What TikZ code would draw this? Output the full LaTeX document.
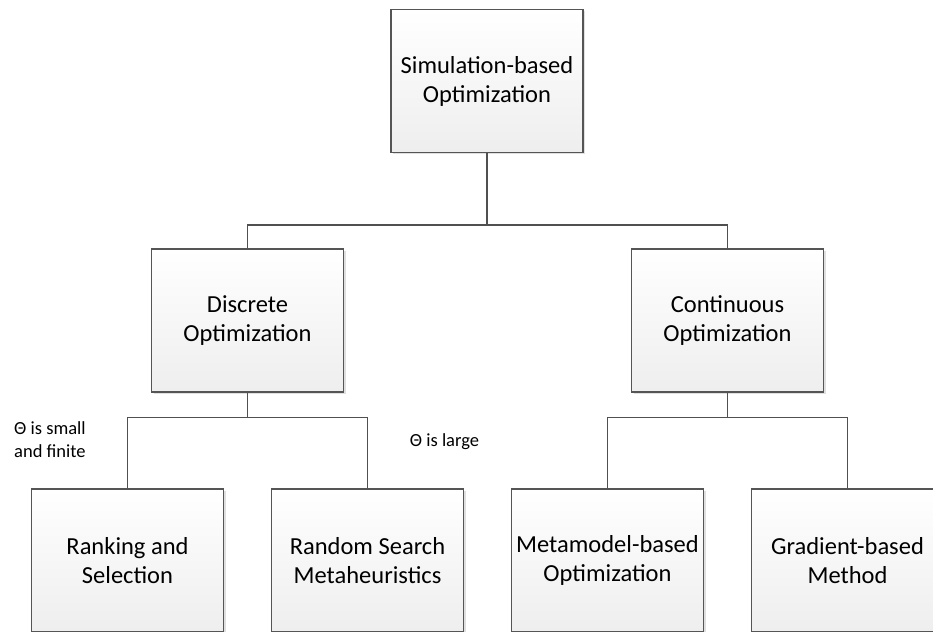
\documentclass[tikz,border=0pt]{standalone}
\usepackage{fontspec}
\setmainfont{Carlito}
\usepackage{xcolor}
\usepackage{tikz}
\usetikzlibrary{shadows}
\definecolor{boxline}{RGB}{85, 85, 85}
\definecolor{boxshade}{RGB}{238, 238, 238}
\definecolor{wireline}{RGB}{80, 80, 80}
\tikzset{
    blk/.style  ={draw=boxline, line width=1.2pt, top color=white, bottom color=boxshade,
                  minimum width=192pt, minimum height=143pt,
                  align=center, font=\fontsize{24.5}{29}\selectfont,
                  drop shadow={shadow xshift=2pt, shadow yshift=-2pt, fill=black, opacity=0.12}},
    wire/.style ={draw=wireline, line width=1.3pt},
    lbl/.style  ={font=\fontsize{18.5}{23}\selectfont, inner sep=0pt, align=left}
}
\begin{document}
\begin{tikzpicture}[x=1pt, y=-1pt]
  \useasboundingbox (0,0) rectangle (933,631);
  \clip (0,0) rectangle (933,631);
  % root
  \node[blk] (sbo) at (487,81) {Simulation-based\\Optimization};
  % second level
  \node[blk] (disc) at (247.5,320.5) {Discrete\\Optimization};
  \node[blk] (cont) at (727.5,320.5) {Continuous\\Optimization};
  % leaves
  \node[blk] (rs)   at (127.5,560.5) {Ranking and\\Selection};
  \node[blk] (rsm)  at (367.5,560.5) {Random Search\\Metaheuristics};
  \node[blk] (mbo)  at (607.5,560.5) {Metamodel-based\\Optimization};
  \node[blk] (gbm)  at (847.5,560.5) {Gradient-based\\Method};

  % tree lines
  \draw[wire] (sbo.south) -- ++(0,72) -| (disc.north);
  \draw[wire] (sbo.south) -- ++(0,72) -| (cont.north);
  \draw[wire] (disc.south) -- ++(0,25) -| (rs.north);
  \draw[wire] (disc.south) -- ++(0,25) -| (rsm.north);
  \draw[wire] (cont.south) -- ++(0,25) -| (mbo.north);
  \draw[wire] (cont.south) -- ++(0,25) -| (gbm.north);

  % conditions
  \node[lbl, anchor=west] (small) at (14,440) {Θ is small\\and finite};
  \node[lbl] (large) at (444.5,442) {Θ is large};
\end{tikzpicture}
\end{document}
